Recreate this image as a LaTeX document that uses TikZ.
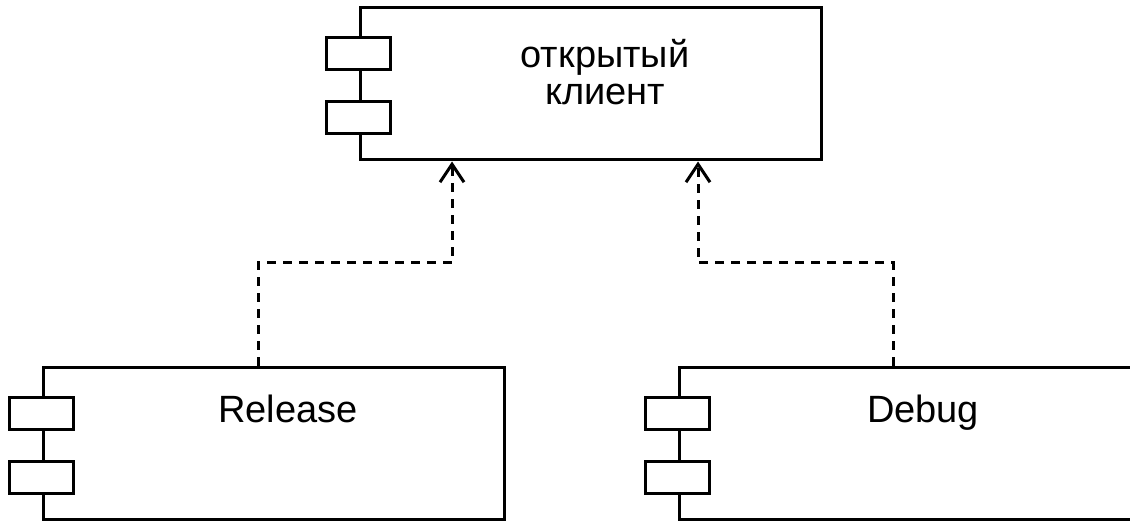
\documentclass[tikz,border=0pt]{standalone}
\usepackage{fontspec}
\setmainfont{Liberation Sans}
\usetikzlibrary{arrows.meta}

\tikzset{
  compbox/.style={draw, line width=3pt, fill=white, minimum width=461pt,
    minimum height=152pt, inner sep=0pt},
  port/.style={draw, line width=3pt, fill=white, minimum width=64pt,
    minimum height=32pt, inner sep=0pt},
  lbl/.style={inner sep=0pt, align=center, anchor=base,
    font=\fontsize{38pt}{37pt}\selectfont},
  dep/.style={line width=3pt, dash pattern=on 9pt off 7pt,
    -{Straight Barb[length=18pt,width=24pt]}},
}

\begin{document}
\begin{tikzpicture}[x=1pt, y=-1pt]
  \useasboundingbox (0,0) rectangle (1130,521);
  \clip (0,0) rectangle (1130,521);

  % component boxes
  \node[compbox] (top) at (590.5,84) {};
  \node[compbox] (rel) at (273.5,443.5) {};
  \node[compbox] (dbg) at (909.5,443.5) {};

  % the two port rectangles on each component
  \foreach \c in {top,rel,dbg} {
    \node[port] (\c-p1) at ([yshift=-47.5pt]\c.north west) {};
    \node[port] (\c-p2) at ([yshift=-111.5pt]\c.north west) {};
  }

  % names (base anchor sits on the last line)
  \node[lbl] (topname) at ([xshift=14.5pt,yshift=-98pt]top.north) {открытый\\клиент};
  \node[lbl] (relname) at ([xshift=14.5pt,yshift=-56pt]rel.north) {Release};
  \node[lbl] (dbgname) at ([xshift=13.5pt,yshift=-56pt]dbg.north) {Debug};

  % dependencies
  \draw[dep] ([xshift=-15.5pt]rel.north) -- ++(0,-103) -| ([xshift=-138.5pt]top.south);
  \draw[dep] ([xshift=-16.5pt]dbg.north) -- ++(0,-103) -| ([xshift=107.5pt]top.south);
\end{tikzpicture}
\end{document}
